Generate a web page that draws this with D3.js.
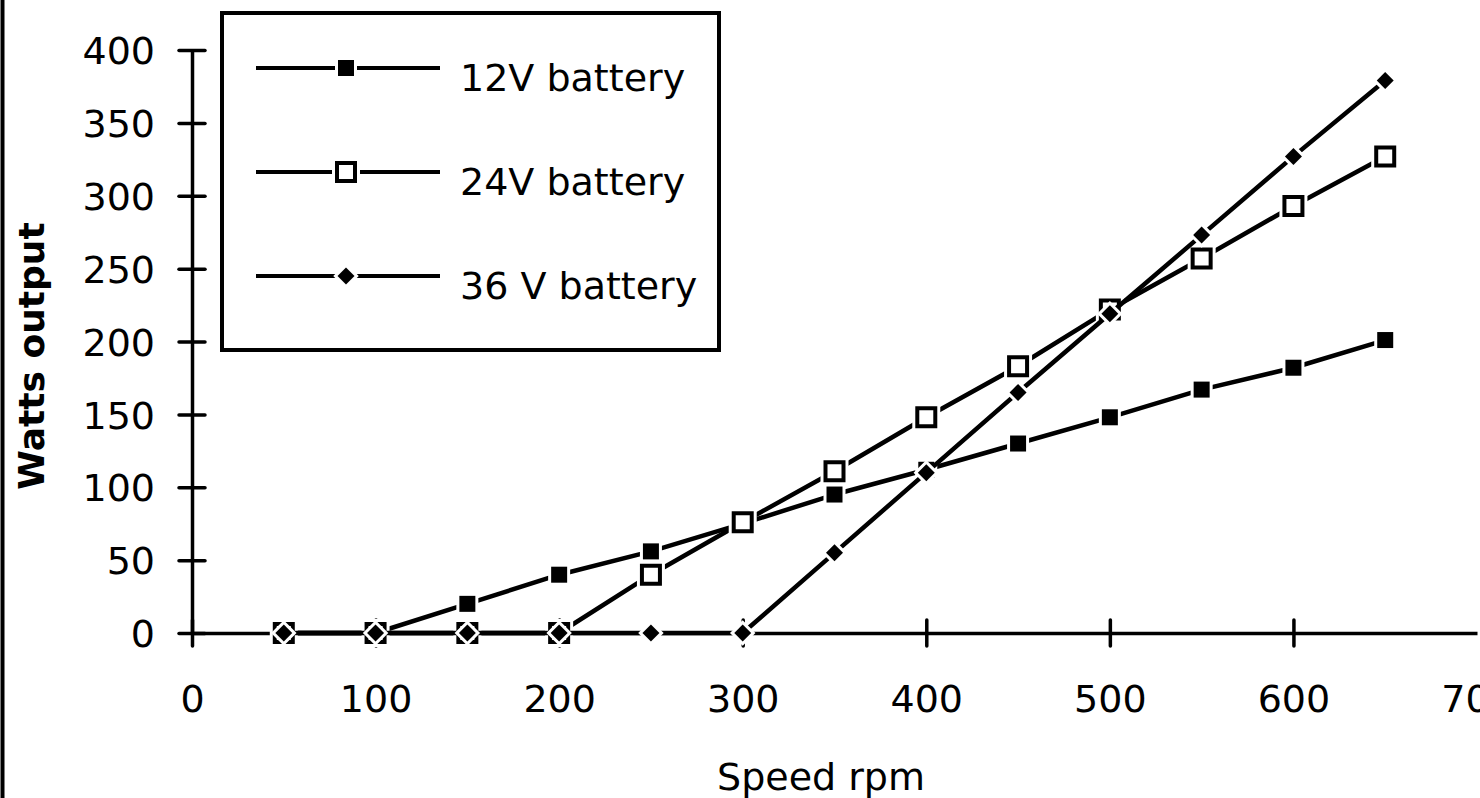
<!DOCTYPE html>
<html>
<head>
<meta charset="utf-8">
<script src="https://cdn.jsdelivr.net/npm/d3@7"></script>
<style>
  html, body { margin: 0; padding: 0; background: #fff; }
  svg { display: block; }
  text { font-family: "DejaVu Sans", sans-serif; fill: #000; }
</style>
</head>
<body>
<svg id="chart" width="1480" height="798"></svg>
<script>
// Generator output (W) against shaft speed (rpm) for three battery voltages
const speeds = [50, 100, 150, 200, 250, 300, 350, 400, 450, 500, 550, 600, 650];
const watts12V = [0, 0, 20, 40, 56, 75, 95, 112, 130, 148, 167, 182, 201];
const watts24V = [0, 0, 0, 0, 40, 76, 111, 148, 183, 222, 257, 293, 327];
const watts36V = [0, 0, 0, 0, 0, 0, 55, 110, 165, 219, 273, 327, 379];
const seriesNames = ["12V battery", "24V battery", "36 V battery"];
const xTickValues = [0, 100, 200, 300, 400, 500, 600, 700];
const yTickValues = [0, 50, 100, 150, 200, 250, 300, 350, 400];

const svg = d3.select("#chart");
const W = 1480, H = 798;

const x = d3.scaleLinear().domain([0, 700]).range([192, 1477]);
const y = d3.scaleLinear().domain([0, 400]).range([633, 50]);

// page frame edge on the left
svg.append("line")
  .attr("x1", 2.5).attr("x2", 2.5).attr("y1", 0).attr("y2", H)
  .attr("stroke", "#000").attr("stroke-width", 4);

const TICK = 13;
const FS = 38;

// y axis
const yAxis = svg.append("g")
  .attr("transform", `translate(${x(0)},0)`)
  .call(d3.axisLeft(y).tickValues(yTickValues).tickSize(TICK).tickSizeOuter(0).tickPadding(24));
yAxis.select(".domain").attr("stroke", "#000").attr("stroke-width", 3.5);
yAxis.selectAll(".tick line")
  .attr("x1", TICK).attr("x2", -TICK)
  .attr("stroke", "#000").attr("stroke-width", 3.5).attr("stroke-linecap", "round");
yAxis.selectAll(".tick text")
  .attr("font-size", FS).attr("font-family", "DejaVu Sans").attr("fill", "#000")
  .attr("dy", "0.36em");

// x axis
const xAxis = svg.append("g")
  .attr("transform", `translate(0,${y(0)})`)
  .call(d3.axisBottom(x).tickValues(xTickValues).tickSize(TICK).tickSizeOuter(0).tickPadding(0));
xAxis.select(".domain").attr("stroke", "#000").attr("stroke-width", 3.5);
xAxis.selectAll(".tick line")
  .attr("y1", -TICK).attr("y2", TICK)
  .attr("stroke", "#000").attr("stroke-width", 3.5).attr("stroke-linecap", "round")
  .attr("display", d => d === 700 ? "none" : null);
xAxis.selectAll(".tick text")
  .attr("font-size", FS).attr("font-family", "DejaVu Sans").attr("fill", "#000")
  .attr("y", 79).attr("dy", 0);

// axis titles
svg.append("text")
  .attr("transform", `translate(44,356) rotate(-90)`)
  .attr("text-anchor", "middle")
  .attr("font-size", 36).attr("font-weight", "bold")
  .text("Watts output");

svg.append("text")
  .attr("x", 821).attr("y", 790)
  .attr("text-anchor", "middle")
  .attr("font-size", FS)
  .text("Speed rpm");

// marker painters: each draws a white halo first so lines break around it
const symSquare = (size) => d3.symbol().type(d3.symbolSquare).size(size * size)();

function filledSquare(g, cx, cy) {
  g.append("path").attr("d", symSquare(16))
    .attr("transform", `translate(${cx},${cy})`)
    .attr("fill", "#000").attr("stroke", "#fff").attr("stroke-width", 6)
    .attr("paint-order", "stroke");
}
function hollowSquare(g, cx, cy) {
  g.append("path").attr("d", symSquare(28))
    .attr("transform", `translate(${cx},${cy})`)
    .attr("fill", "#fff");
  g.append("path").attr("d", symSquare(18))
    .attr("transform", `translate(${cx},${cy})`)
    .attr("fill", "#fff").attr("stroke", "#000").attr("stroke-width", 4);
}
function diamond(g, cx, cy) {
  g.append("path").attr("d", symSquare(12))
    .attr("transform", `translate(${cx},${cy}) rotate(45)`)
    .attr("fill", "#000").attr("stroke", "#fff").attr("stroke-width", 6)
    .attr("paint-order", "stroke");
}

const series = [
  { name: seriesNames[0], values: watts12V, marker: filledSquare },
  { name: seriesNames[1], values: watts24V, marker: hollowSquare },
  { name: seriesNames[2], values: watts36V, marker: diamond }
];

const line = d3.line().x(d => x(d[0])).y(d => y(d[1]));

series.forEach(s => {
  const g = svg.append("g");
  const pts = speeds.map((v, i) => [v, s.values[i]]);
  g.append("path").datum(pts).attr("d", line)
    .attr("fill", "none").attr("stroke", "#000").attr("stroke-width", 4.5)
    .attr("stroke-linejoin", "round");
  pts.forEach(p => s.marker(g, x(p[0]), y(p[1])));
});

// legend
const lg = svg.append("g");
lg.append("rect")
  .attr("x", 222).attr("y", 13).attr("width", 497).attr("height", 337)
  .attr("fill", "#fff").attr("stroke", "#000").attr("stroke-width", 4);
const rowY = [68, 172, 276];
series.forEach((s, i) => {
  const ry = rowY[i];
  lg.append("line").attr("x1", 256).attr("x2", 440).attr("y1", ry).attr("y2", ry)
    .attr("stroke", "#000").attr("stroke-width", 4);
  s.marker(lg, 346, ry);
  lg.append("text").attr("x", 460).attr("y", ry + 23)
    .attr("font-size", FS).text(s.name);
});
</script>
</body>
</html>
